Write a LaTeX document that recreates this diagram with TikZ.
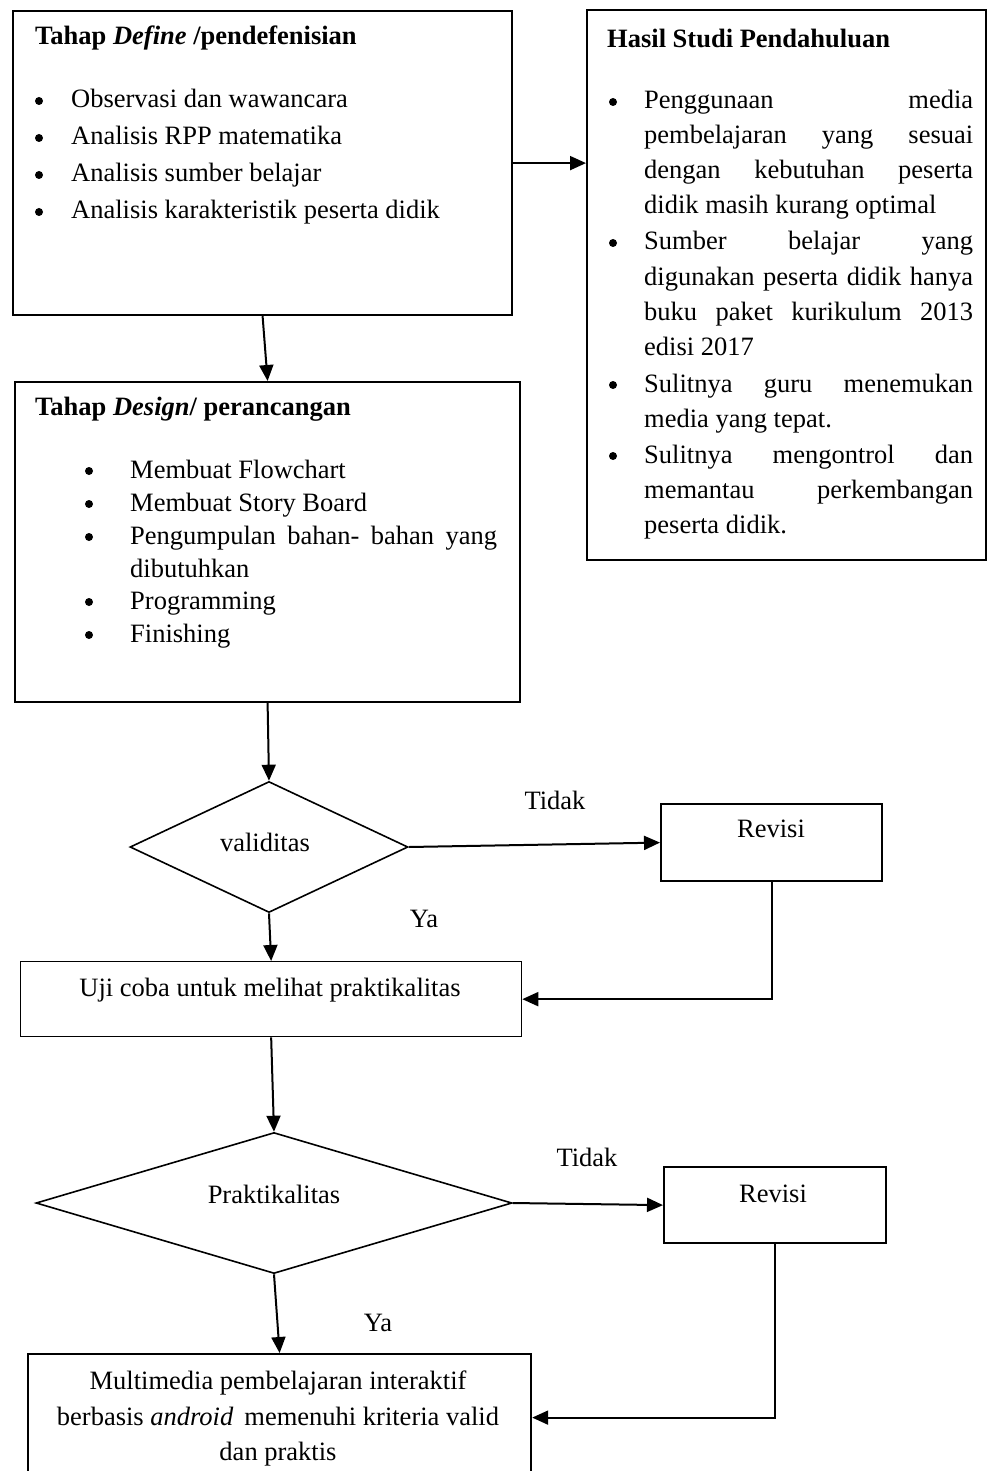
\documentclass[tikz,border=0pt]{standalone}
\usepackage{fontspec}
\setmainfont{Liberation Serif}
\usetikzlibrary{shapes.geometric,arrows.meta}
\begin{document}
\begin{tikzpicture}[x=1pt,y=-1pt,
  box/.style={draw,line width=2.2pt,inner sep=0pt,anchor=north west},
  thinbox/.style={draw,line width=1.3pt,inner sep=0pt,anchor=north west},
  dia/.style={draw,diamond,line width=1.6pt,inner sep=0pt},
  txt/.style={inner sep=0pt,anchor=base west,font=\fontsize{26.5}{34}\selectfont},
  ctxt/.style={inner sep=0pt,anchor=base,font=\fontsize{26.5}{34}\selectfont},
  bul/.style={circle,fill,inner sep=0pt,minimum size=8pt},
  arr/.style={line width=2pt,-{Triangle[length=16pt,width=14pt]}},
  ln/.style={line width=2pt}]
\useasboundingbox (0,0) rectangle (987,1471);
\clip (0,0) rectangle (987,1471);
% boxes
\node[box,minimum width=499pt,minimum height=304pt] (define) at (12,10) {};
\node[box,minimum width=399pt,minimum height=550pt] (hasil) at (586,9) {};
\node[box,minimum width=505pt,minimum height=320pt] (design) at (14,381) {};
\node[dia,minimum width=278pt,minimum height=131pt] (d1) at (269,847) {};
\node[box,minimum width=221pt,minimum height=77pt] (rev1) at (660,803) {};
\node[thinbox,minimum width=501pt,minimum height=75pt] (uji) at (20,961) {};
\node[dia,minimum width=476pt,minimum height=141pt] (d2) at (274,1203) {};
\node[box,minimum width=222pt,minimum height=76pt] (rev2) at (663,1166) {};
\node[box,minimum width=503pt,minimum height=127pt] (final) at (27,1353) {};
% define box text
\node[txt] (t1) at (35,45) {\textbf{Tahap \textit{Define} /pendefenisian}};
\node[bul] (b11) at (39,101) {};
\node[txt] (i11) at (71,108) {Observasi dan wawancara};
\node[bul] (b12) at (39,138) {};
\node[txt] (i12) at (71,145) {Analisis RPP matematika};
\node[bul] (b13) at (39,175) {};
\node[txt] (i13) at (71,182) {Analisis sumber belajar};
\node[bul] (b14) at (39,212) {};
\node[txt] (i14) at (71,219) {Analisis karakteristik peserta didik};
% hasil box text
\node[txt] (t2) at (607,48) {\textbf{Hasil Studi Pendahuluan}};
\node[bul] (b21) at (613,102) {};
\node[txt] (h1) at (644,109) {\makebox[329pt][s]{Penggunaan media}};
\node[txt] (h2) at (644,144) {\makebox[329pt][s]{pembelajaran yang sesuai}};
\node[txt] (h3) at (644,179) {\makebox[329pt][s]{dengan kebutuhan peserta}};
\node[txt] (h4) at (644,214) {didik masih kurang optimal};
\node[bul] (b22) at (613,243) {};
\node[txt] (h5) at (644,250) {\makebox[329pt][s]{Sumber belajar yang}};
\node[txt] (h6) at (644,285) {\makebox[329pt][s]{digunakan peserta didik hanya}};
\node[txt] (h7) at (644,320) {\makebox[329pt][s]{buku paket kurikulum 2013}};
\node[txt] (h8) at (644,355) {edisi 2017};
\node[bul] (b23) at (613,385) {};
\node[txt] (h9) at (644,392) {\makebox[329pt][s]{Sulitnya guru menemukan}};
\node[txt] (h10) at (644,427) {media yang tepat.};
\node[bul] (b24) at (613,456) {};
\node[txt] (h11) at (644,463) {\makebox[329pt][s]{Sulitnya mengontrol dan}};
\node[txt] (h12) at (644,498) {\makebox[329pt][s]{memantau perkembangan}};
\node[txt] (h13) at (644,533) {peserta didik.};
% design box text
\node[txt] (t3) at (35,415) {\textbf{Tahap \textit{Design}/ perancangan}};
\node[bul] (b31) at (89,471) {};
\node[txt] (d31) at (130,478) {Membuat Flowchart};
\node[bul] (b32) at (89,504) {};
\node[txt] (d32) at (130,511) {Membuat Story Board};
\node[bul] (b33) at (89,537) {};
\node[txt] (d33) at (130,544) {\makebox[367pt][s]{Pengumpulan bahan- bahan yang}};
\node[txt] (d34) at (130,577) {dibutuhkan};
\node[bul] (b35) at (89,602) {};
\node[txt] (d35) at (130,609) {Programming};
\node[bul] (b36) at (89,635) {};
\node[txt] (d36) at (130,642) {Finishing};
% flow labels
\node[ctxt] (lv) at (265,851) {validitas};
\node[ctxt] (lr1) at (771,837) {Revisi};
\node[ctxt] (ltd1) at (555,809) {Tidak};
\node[ctxt] (lya1) at (424,927) {Ya};
\node[ctxt] (lu) at (270,996) {Uji coba untuk melihat praktikalitas};
\node[ctxt] (lp) at (274,1203) {Praktikalitas};
\node[ctxt] (lr2) at (773,1202) {Revisi};
\node[ctxt] (ltd2) at (587,1166) {Tidak};
\node[ctxt] (lya2) at (378,1331) {Ya};
\node[ctxt] (f1) at (278,1389) {Multimedia pembelajaran interaktif};
\node[ctxt] (f2) at (278,1425) {berbasis \textit{android}\, memenuhi kriteria valid};
\node[ctxt] (f3) at (278,1460) {dan praktis};
% connectors
\draw[arr] (define.east) -- (define.east -| hasil.west);
\draw[arr] (define.south) -- (design.north);
\draw[arr] (design.south) -- (d1.north);
\draw[arr] (d1.east) -- (rev1.west);
\draw[arr] (d1.south) -- (uji.north);
\draw[arr] (rev1.south) |- (uji.east);
\draw[arr] (uji.south) -- (d2.north);
\draw[arr] (d2.east) -- (rev2.west);
\draw[arr] (d2.south) -- (final.north);
\draw[arr] (rev2.south) |- (final.east);
\end{tikzpicture}
\end{document}
